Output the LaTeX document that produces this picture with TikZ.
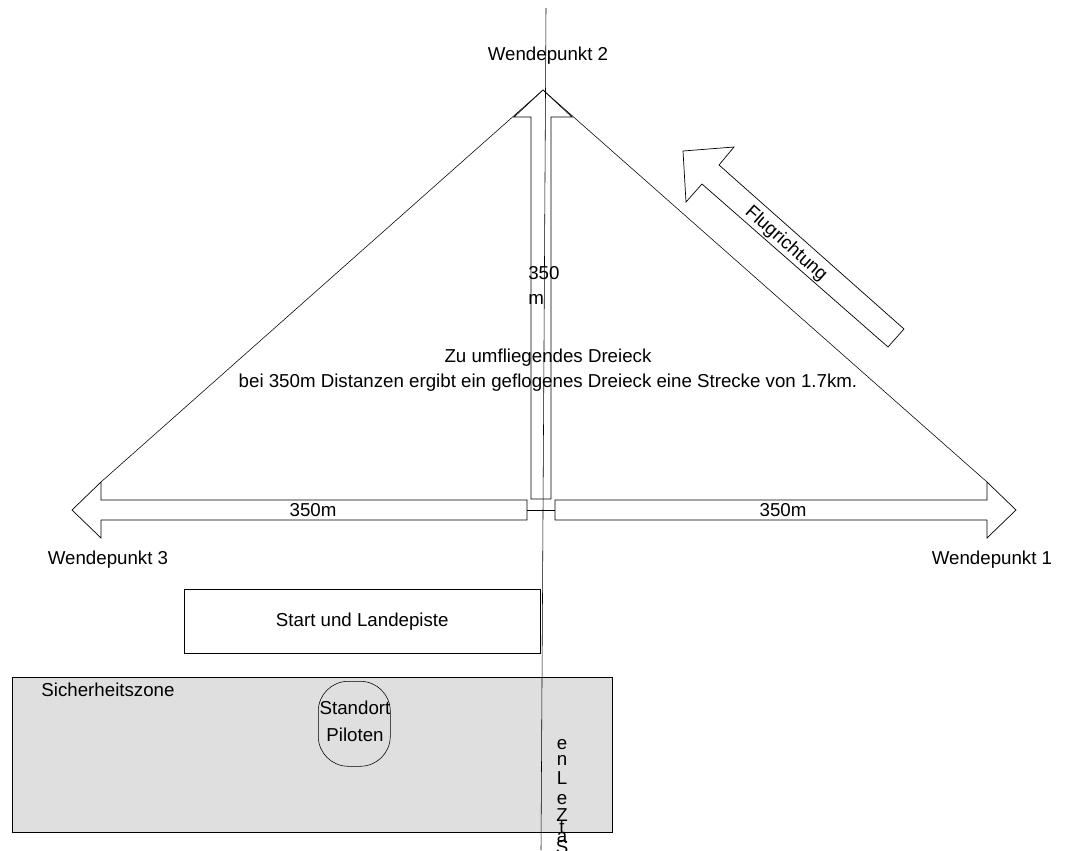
\documentclass[tikz,border=0pt]{standalone}
\usepackage{fontspec}
\setmainfont{Liberation Sans}
\usetikzlibrary{calc}

\begin{document}
\begin{tikzpicture}[x=0.025cm,y=-0.025cm]
			\tikzstyle{lbl}=[inner sep=0pt,font=\fontsize{13.3}{17.8}\selectfont]
			\tikzstyle{blockarrow}=[draw,line width=0.5pt,fill=white,line join=miter]

			\useasboundingbox (0,0) rectangle (1067,850);

			\fill [gray!25] (12,677) rectangle (612,832);
			\draw (12,677) rectangle (612,832);
			\node (zone) [lbl] at (108,690) {Sicherheitszone};

			\node (piste) [lbl, draw, minimum width=356*0.025cm, minimum height=64*0.025cm, anchor=north west] at (184,589) {};
			\node [lbl] at (piste.center) {Start und Landepiste};

			\node (pilot) [draw, rounded corners=0.75cm, minimum width=72*0.025cm, minimum height=85*0.025cm, anchor=north west, inner sep=0pt] at (318,681) {};
			\node (pilot1) [lbl] at (355,708) {Standort};
			\node (pilot2) [lbl] at (355,735) {Piloten};

			\coordinate (top) at (546,8);
			\coordinate (bottom) at (541,850);

			\coordinate (W2) at (543,90);
			\coordinate (W3) at (101,482);
			\coordinate (W1) at (987,482);
			\draw (W3) -- (W2) -- (W1);

			\draw [blockarrow] (531,499) -- (531,117) -- (514,117) -- (W2) -- (572,117) -- (551,117) -- (551,499) -- cycle;
			\draw [blockarrow] (527,500) -- (101,500) -- (W3) -- (72,510) -- (101,538) -- (101,520) -- (527,520) -- cycle;
			\draw [blockarrow] (555,500) -- (987,500) -- (W1) -- (1016,510) -- (987,538) -- (987,520) -- (555,520) -- cycle;
			\draw (527,510) -- (555,510);
			\draw (top) -- (bottom);

			\draw [blockarrow] (888,347) -- (702,184) -- (686,202) -- (683,151) -- (734,147) -- (719,165) -- (904,329) -- cycle;
			\node (dir) [lbl, rotate=-41.6] at (786,244) {Flugrichtung};

			\node (wp2) [lbl] at (548,56) {Wendepunkt 2};
			\node (wp3) [lbl] at (108,560) {Wendepunkt 3};
			\node (wp1) [lbl] at (992,560) {Wendepunkt 1};

			\node (d3) [lbl] at (313,510) {350m};
			\node (d1) [lbl] at (783,510) {350m};
			\node (d2) [lbl, align=left, anchor=north west] at (528,266) {350\\m};

			\node (title) [lbl, align=center] at (548,370) {Zu umfliegendes Dreieck\\bei 350m Distanzen ergibt ein geflogenes Dreieck eine Strecke von 1.7km.};

			\foreach \ch/\yy [count=\i] in {e/745,n/760,L/778,e/800,Z/815,t/828,a/838,S/847}
				\node (v\i) [lbl] at (562,\yy) {\ch};
		\end{tikzpicture}
\end{document}
